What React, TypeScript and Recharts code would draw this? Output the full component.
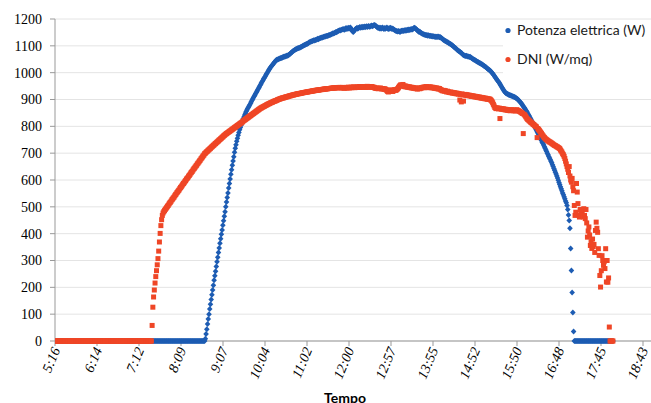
import { CartesianGrid, Scatter, ScatterChart, XAxis, YAxis } from "recharts";

// one reading per minute, first sample at 5:17
const START_MINUTE = 317;

// Potenza elettrica (W)
const potenzaW: number[] = [
  0,0,0,0,0,0,0,0,0,0,0,0,0,0,0,0,0,0,0,0,
  0,0,0,0,0,0,0,0,0,0,0,0,0,0,0,0,0,0,0,0,
  0,0,0,0,0,0,0,0,0,0,0,0,0,0,0,0,0,0,0,0,
  0,0,0,0,0,0,0,0,0,0,0,0,0,0,0,0,0,0,0,0,
  0,0,0,0,0,0,0,0,0,0,0,0,0,0,0,0,0,0,0,0,
  0,0,0,0,0,0,0,0,0,0,0,0,0,0,0,0,0,0,0,0,
  0,0,0,0,0,0,0,0,0,0,0,0,0,0,0,0,0,0,0,0,
  0,0,0,0,0,0,0,0,0,0,0,0,0,0,0,0,0,0,0,0,
  0,0,0,0,0,0,0,0,0,0,0,0,0,0,0,0,0,0,0,0,
  0,0,0,0,0,0,0,0,0,0,0,0,0,0,0,0,0,0,0,0,
  0,0,0,0,0,0,
  8,26,44,63,82,100,119,
  137,155,172,190,208,226,243,260,278,295,
  312,330,347,364,381,398,414,431,448,465,
  482,500,518,535,552,570,587,604,621,638,
  655,671,687,703,718,731,744,756,767,777,
  787,796,804,812,820,828,835,842,849,855,
  861,866,871,876,880,886,892,897,902,907,
  912,917,922,927,932,937,942,947,952,957,
  962,967,972,977,981,986,991,996,1000,1005,
  1010,1014,1018,1022,1026,1029,1032,1036,1040,1043,
  1046,1048,1049,1050,1052,1053,1054,1056,1055,1057,
  1058,1060,1059,1061,1062,1064,1063,1066,1068,1070,
  1072,1075,1077,1080,1082,1084,1085,1087,1088,1090,
  1091,1092,1093,1094,1096,1097,1098,1100,1101,1103,
  1104,1106,1107,1108,1110,1112,1113,1115,1116,1117,
  1118,1120,1121,1120,1122,1123,1124,1126,1125,1127,
  1128,1129,1131,1130,1132,1133,1135,1134,1136,1137,
  1138,1137,1139,1140,1140,1142,1143,1145,1147,1146,
  1148,1150,1152,1151,1153,1155,1156,1158,1157,1159,
  1160,1162,1161,1163,1160,1164,1166,1163,1165,1167,
  1164,1166,1168,1162,1158,1153,1152,1156,1160,1163,
  1165,1167,1164,1166,1168,1170,1167,1169,1171,1168,
  1170,1172,1169,1171,1173,1170,1172,1174,1171,1172,
  1174,1176,1173,1175,1177,1178,1176,1174,1171,1168,
  1166,1168,1165,1167,1164,1166,1168,1165,1163,1166,
  1164,1166,1168,1165,1163,1166,1164,1167,1165,1163,
  1165,1162,1160,1158,1156,1155,1154,1153,1155,1153,
  1152,1154,1156,1155,1157,1155,1158,1156,1159,1157,
  1160,1158,1161,1159,1162,1160,1163,1161,1164,1166,
  1167,1165,1163,1160,1157,1154,1152,1153,1150,1148,
  1146,1145,1143,1142,1141,1140,1139,1140,1138,1139,
  1138,1137,1138,1136,1137,1135,1136,1134,1135,1133,
  1134,1133,1135,1134,1132,1133,1131,1128,1126,1124,
  1122,1120,1118,1117,1115,1113,1112,1110,1109,1107,
  1105,1103,1101,1098,1096,1094,1092,1089,1086,1084,
  1082,1080,1078,1076,1073,1071,1068,1066,1064,1063,
  1062,1063,1061,1060,1060,1058,1059,1057,1055,1053,
  1051,1049,1048,1046,1044,1043,1041,1040,1038,1036,
  1035,1033,1031,1030,1028,1026,1024,1022,1020,1017,
  1015,1013,1011,1009,1006,1003,1000,997,993,989,
  985,981,977,973,970,966,962,958,953,948,
  944,939,935,931,927,924,922,921,920,918,
  917,916,915,914,912,911,910,909,907,906,
  904,902,899,896,893,890,887,883,879,875,
  871,867,863,858,854,849,844,839,834,829,
  824,818,813,808,803,797,791,786,780,775,
  769,763,758,752,747,741,736,730,724,718,
  712,706,700,694,688,682,676,670,664,657,
  650,643,636,629,622,615,607,599,591,583,
  575,567,560,552,545,538,530,522,515,505,
  490,470,449,420,345,263,181,106,35,
  0,0,0,0,0,0,0,0,0,0,0,0,0,0,0,0,0,0,0,0,
  0,0,0,0,0,0,0,0,0,0,0,0,0,0,0,0,0,0,0,0,
  0,0,0,0,0,0,0,0,0,0,0,0,0,0,
];

// DNI (W/mq)
const dniWmq: number[] = [
  0,0,0,0,0,0,0,0,0,0,0,0,0,0,0,0,0,0,0,0,
  0,0,0,0,0,0,0,0,0,0,0,0,0,0,0,0,0,0,0,0,
  0,0,0,0,0,0,0,0,0,0,0,0,0,0,0,0,0,0,0,0,
  0,0,0,0,0,0,0,0,0,0,0,0,0,0,0,0,0,0,0,0,
  0,0,0,0,0,0,0,0,0,0,0,0,0,0,0,0,0,0,0,0,
  0,0,0,0,0,0,0,0,0,0,0,0,0,0,0,0,0,0,0,0,
  0,0,0,0,0,0,0,0,0,0,0,0,0,
  58,126,164,190,216,240,262,284,307,335,
  369,401,430,452,468,477,482,486,490,494,
  498,502,505,510,514,517,521,526,529,533,
  536,541,545,548,553,556,560,563,568,572,
  575,579,584,587,590,595,598,603,606,609,
  614,617,621,626,629,632,637,641,644,648,
  652,655,660,663,667,671,674,679,682,686,
  690,693,698,700,703,706,708,711,713,716,
  718,721,724,726,729,731,734,736,739,741,
  744,746,749,751,754,756,759,761,764,766,
  769,771,773,775,777,779,781,783,785,787,
  789,791,793,795,797,799,801,803,805,807,
  809,811,813,815,817,820,822,824,826,828,
  830,832,834,836,838,840,842,844,846,848,
  850,852,854,856,858,860,862,864,866,868,
  869,871,872,874,875,877,878,880,881,883,
  884,885,887,888,889,890,892,893,894,895,
  896,897,899,900,901,902,903,904,905,906,
  906,907,908,909,910,910,911,912,913,914,
  914,915,916,917,917,918,919,919,920,921,
  921,922,922,923,923,924,925,925,926,926,
  927,927,928,928,929,929,930,930,931,931,
  932,932,933,933,934,934,935,935,935,936,
  936,937,937,937,938,938,939,939,939,940,
  940,940,941,941,941,942,942,942,943,943,
  943,943,944,944,944,944,945,944,945,943,
  944,945,943,944,942,944,945,943,944,946,
  944,943,945,946,944,945,947,946,944,945,
  946,945,947,946,948,945,947,946,948,947,
  946,948,947,945,947,949,947,946,948,947,
  946,948,947,945,946,944,942,943,941,942,
  940,942,941,943,941,939,941,940,938,940,
  938,936,933,930,928,931,933,936,934,932,
  930,933,935,937,934,936,938,941,945,949,
  952,955,951,953,956,950,948,951,947,949,
  946,948,945,947,944,946,943,945,942,944,
  941,943,940,942,939,941,943,940,942,944,
  943,945,946,944,947,945,948,946,944,947,
  945,947,946,944,946,943,945,942,944,941,
  943,940,942,939,941,938,936,935,933,932,
  934,931,933,930,928,931,929,927,926,928,
  925,927,924,926,923,925,922,924,921,923,
  920,922,898,919,891,921,918,894,917,919,
  916,918,915,917,914,916,913,915,912,914,
  911,913,910,912,909,911,908,910,907,909,
  906,908,905,907,904,906,903,905,902,904,
  901,903,900,902,899,897,893,888,882,876,
  870,868,866,869,867,865,868,829,866,864,
  866,863,865,862,864,861,863,860,862,859,
  861,858,860,862,859,861,858,860,857,859,
  862,860,859,857,856,854,852,850,848,773,
  845,842,838,834,829,826,824,821,819,816,
  814,812,809,807,805,802,800,798,758,792,
  788,785,781,777,773,769,765,761,758,755,
  752,750,748,746,744,742,741,739,737,735,
  733,731,729,728,726,724,723,721,719,717,
  712,708,704,698,694,688,680,670,660,650,
  640,628,650,615,600,592,606,575,560,505,
  468,480,587,555,512,470,462,490,470,478,
  487,462,493,468,456,490,440,387,410,425,
  395,356,370,345,380,352,360,330,412,443,
  420,405,344,319,244,201,262,318,300,282,
  295,270,344,220,300,219,235,52,
  0,0,0,0,0,
];

// axis ticks every 0.04 day (57.6 min)
const timeTicks = [
  316.8, 374.4, 432, 489.6, 547.2, 604.8, 662.4, 720, 777.6, 835.2, 892.8, 950.4, 1008,
  1065.6, 1123.2,
];
const timeTickLabels = [
  "5:16", "6:14", "7:12", "8:09", "9:07", "10:04", "11:02", "12:00", "12:57", "13:55",
  "14:52", "15:50", "16:48", "17:45", "18:43",
];
const valueTicks = [0, 100, 200, 300, 400, 500, 600, 700, 800, 900, 1000, 1100, 1200];

const BLUE = "#1d5cb3";
const RED = "#ef4626";
const AXIS = "#999999";
const SERIF = "Liberation Serif, Times New Roman, serif";
const SANS = "Lato, Noto Sans, sans-serif";

const toPoints = (values: number[]) =>
  values.map((v, i) => ({ t: START_MINUTE + i, v }));

const potenzaData = toPoints(potenzaW);
const dniData = toPoints(dniWmq);

type ShapeProps = { cx?: number; cy?: number };

const Diamond = ({ cx = 0, cy = 0 }: ShapeProps) => (
  <polygon
    points={`${cx},${cy - 3} ${cx + 2.8},${cy} ${cx},${cy + 3} ${cx - 2.8},${cy}`}
    fill={BLUE}
  />
);

const Square = ({ cx = 0, cy = 0 }: ShapeProps) => (
  <rect x={cx - 2.5} y={cy - 2.5} width={5} height={5} fill={RED} />
);

type TickProps = { x?: number; y?: number; payload?: { value: number } };

const TimeTick = ({ x = 0, y = 0, payload }: TickProps) => {
  const idx = timeTicks.indexOf(payload?.value ?? -1);
  return (
    <text
      x={x + 1}
      y={y}
      dy="0.35em"
      transform={`rotate(-67 ${x + 1} ${y})`}
      textAnchor="end"
      style={{ fontFamily: SERIF, fontStyle: "italic", fontSize: 14 }}
      fill="#000"
    >
      {timeTickLabels[idx] ?? ""}
    </text>
  );
};

const ValueTick = ({ x = 0, y = 0, payload }: TickProps) => (
  <text
    x={x}
    y={y}
    dy="0.35em"
    textAnchor="end"
    style={{ fontFamily: SERIF, fontSize: 14 }}
    fill="#000"
  >
    {payload?.value}
  </text>
);

export default function App() {
  return (
    <div
      style={{
        position: "absolute",
        left: 0,
        top: 0,
        width: 651,
        height: 403,
        overflow: "hidden",
        background: "#fff",
      }}
    >
      <ScatterChart width={700} height={403} margin={{ top: 19, right: 15, bottom: 0, left: 0 }}>
        <CartesianGrid horizontal vertical={false} stroke="#e4e4e4" />
        <XAxis
          type="number"
          dataKey="t"
          domain={[316.8, 1180.8]}
          ticks={timeTicks}
          interval={0}
          allowDataOverflow
          height={62}
          tickSize={5}
          axisLine={{ stroke: AXIS }}
          tickLine={{ stroke: AXIS }}
          tick={<TimeTick />}
        />
        <YAxis
          type="number"
          dataKey="v"
          domain={[0, 1200]}
          ticks={valueTicks}
          interval={0}
          width={55}
          tickSize={5}
          tickMargin={8}
          axisLine={{ stroke: AXIS }}
          tickLine={{ stroke: AXIS }}
          tick={<ValueTick />}
        />
        <Scatter
          name="Potenza elettrica (W)"
          data={potenzaData}
          fill={BLUE}
          shape={Diamond}
          isAnimationActive={false}
        />
        <Scatter
          name="DNI (W/mq)"
          data={dniData}
          fill={RED}
          shape={Square}
          isAnimationActive={false}
        />
      </ScatterChart>
      <svg
        width={651}
        height={403}
        style={{ position: "absolute", left: 0, top: 0, pointerEvents: "none" }}
      >
        <rect x={503} y={21} width={148} height={54} fill="#fff" />
        <circle cx={508} cy={30.5} r={2.6} fill={BLUE} />
        <text x={517} y={35} style={{ fontFamily: SANS, fontSize: 14 }} fill="#1a1a1a">
          Potenza elettrica (W)
        </text>
        <circle cx={508} cy={59.5} r={2.6} fill={RED} />
        <text x={517} y={64} style={{ fontFamily: SANS, fontSize: 14 }} fill="#1a1a1a">
          DNI (W/mq)
        </text>
        <text
          x={345}
          y={403}
          textAnchor="middle"
          style={{ fontFamily: SANS, fontWeight: "bold", fontSize: 14 }}
          fill="#000"
        >
          Tempo
        </text>
      </svg>
    </div>
  );
}
